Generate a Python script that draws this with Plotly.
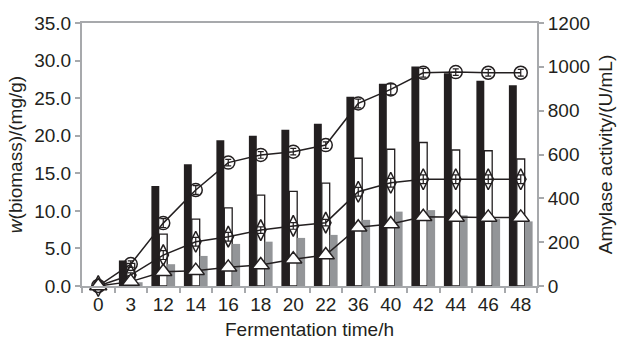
import plotly.graph_objects as go

categories = ["0", "3", "12", "14", "16", "18", "20", "22", "36", "40", "42", "44", "46", "48"]

# Bars (left axis, mg/g)
biomass_black = [0.0, 3.4, 13.3, 16.2, 19.4, 20.0, 20.8, 21.6, 25.2, 26.9, 29.2, 28.3, 27.3, 26.7]
biomass_white = [0.0, 3.0, 6.9, 8.9, 10.4, 12.1, 12.6, 13.7, 17.0, 18.2, 19.1, 18.1, 18.0, 16.9]
biomass_gray = [0.0, 0.5, 2.9, 4.0, 5.6, 5.9, 6.4, 6.8, 8.8, 9.9, 10.1, 9.4, 8.9, 8.6]

# Lines (right axis, U/mL)
amylase_circle = [0, 100, 287, 438, 563, 598, 613, 643, 833, 897, 973, 976, 973, 973]
amylase_diamond = [0, 50, 141, 202, 225, 255, 274, 289, 430, 471, 487, 487, 487, 487]
amylase_triangle = [0, 20, 65, 70, 85, 96, 122, 141, 268, 283, 316, 313, 313, 313]
err_circle = [5, 15, 20, 20, 15, 15, 15, 15, 20, 25, 20, 15, 15, 15]
err_diamond = [5, 10, 20, 20, 20, 15, 15, 15, 20, 20, 20, 20, 20, 20]
err_triangle = [5, 10, 10, 10, 10, 10, 10, 10, 10, 10, 10, 10, 10, 10]

FONT = "Liberation Sans, Arial, sans-serif"
TXT = "#231f20"
AX = "#a7a9ac"
FS = 19

fig = go.Figure()
fig.add_trace(go.Bar(x=categories, y=biomass_black, marker=dict(color="#231f20", line=dict(width=0)), yaxis="y"))
fig.add_trace(go.Bar(x=categories, y=biomass_white, marker=dict(color="white", line=dict(color="#231f20", width=1.3)), yaxis="y"))
fig.add_trace(go.Bar(x=categories, y=biomass_gray, marker=dict(color="#939598", line=dict(width=0)), yaxis="y"))

def line_trace(vals, errs, symbol, size, fill):
    return go.Scatter(
        x=categories, y=vals, yaxis="y2", mode="lines+markers",
        line=dict(color="#231f20", width=1.5),
        marker=dict(symbol=symbol, size=size, color=fill, line=dict(color="#231f20", width=1.5)),
        error_y=dict(type="data", array=errs, color="#231f20", thickness=1.2, width=3),
        cliponaxis=False,
    )

fig.add_trace(line_trace(amylase_circle, err_circle, "circle-open", 13, "#231f20"))
fig.add_trace(line_trace(amylase_diamond, err_diamond, "diamond-tall-open", 15, "#231f20"))
fig.add_trace(line_trace(amylase_triangle, err_triangle, "triangle-up", 15, "white"))

fig.update_layout(
    width=617, height=341,
    margin=dict(l=82, r=80, t=23, b=55, autoexpand=False),
    paper_bgcolor="white", plot_bgcolor="white",
    showlegend=False,
    barmode="group", bargap=0.27, bargroupgap=0,
    font=dict(family=FONT, size=FS, color=TXT),
    xaxis=dict(
        type="category", range=[-0.5, len(categories) - 0.5], autorange=False, automargin=False,
        showline=True, linecolor=AX, linewidth=2, mirror=True,
        ticks="outside", tickson="boundaries", ticklen=5, tickcolor=AX, tickwidth=1.5,
        showgrid=False, tickfont=dict(size=FS, color=TXT),
        title=dict(text="Fermentation time/h", font=dict(size=FS, color=TXT), standoff=9),
    ),
    yaxis=dict(
        range=[0, 35], dtick=5, tickformat=".1f", showline=True, linecolor=AX, linewidth=2, automargin=False,
        ticks="outside", ticklen=5, tickcolor=AX, tickwidth=1.5, showgrid=False, zeroline=False,
        tickfont=dict(size=FS, color=TXT),
        title=dict(text="<i>w</i>(biomass)/(mg/g)", font=dict(size=FS, color=TXT), standoff=7),
    ),
    yaxis2=dict(
        range=[0, 1200], dtick=200, overlaying="y", side="right", showline=True, linecolor=AX, linewidth=2,
        automargin=False,
        ticks="outside", ticklen=5, tickcolor=AX, tickwidth=1.5, showgrid=False, zeroline=False,
        tickfont=dict(size=FS, color=TXT),
        title=dict(text="Amylase activity/(U/mL)", font=dict(size=FS, color=TXT), standoff=10),
    ),
)

fig.write_html("out.html")
